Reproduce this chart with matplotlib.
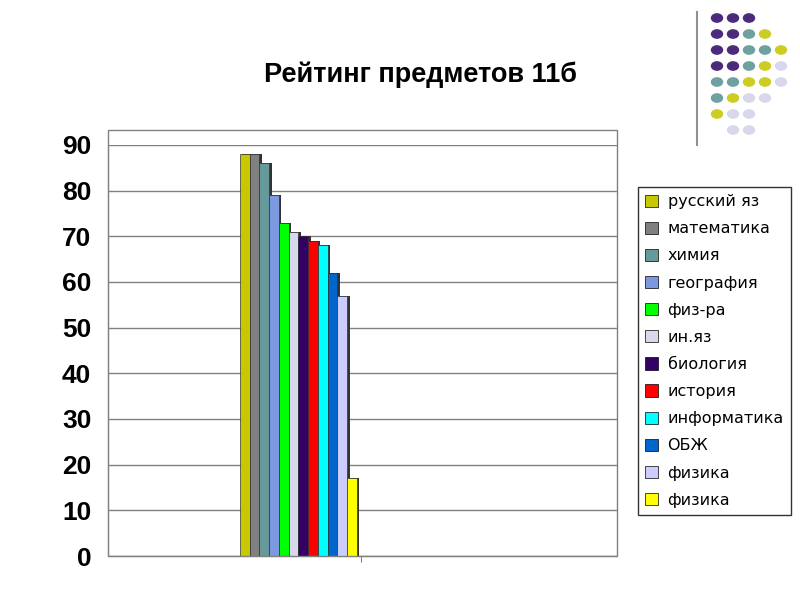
import matplotlib
matplotlib.use("Agg")
import matplotlib.pyplot as plt
from matplotlib.patches import Circle, Rectangle

labels = ["русский яз","математика","химия","география","физ-ра","ин.яз","биология","история","информатика","ОБЖ","физика","физика"]
values = [88, 88, 86, 79, 73, 71, 70, 69, 68, 62, 57, 17]
colors = ["#c8c800","#808080","#669999","#7b98e0","#00ff00","#d8d8ec","#330066","#ff0000","#00ffff","#0066cc","#ccccff","#ffff00"]

plt.rcParams['font.family'] = ['Liberation Sans', 'DejaVu Sans']
fig = plt.figure(figsize=(8, 6), dpi=100)
W, H = 800, 600
ax = fig.add_axes([108/W, 1-556/H, (617-108)/W, (556-145)/H])
for i, (v, c) in enumerate(zip(values, colors)):
    ax.bar(i + 0.25, v, width=1, color="#333333", zorder=2)
    ax.bar(i, v, width=1, color=c, edgecolor="#333333", linewidth=0.5, zorder=3)
ax.set_xlim(-14.04, 38.2)
ax.set_ylim(0, 90)
ax.set_yticks(range(0, 91, 10))
ax.set_xticks([11.95])
ax.set_xticklabels([])
ax.tick_params(axis='x', length=4, direction='out', color='#808080')
ax.tick_params(axis='y', labelsize=19, length=0, pad=12)
for t in ax.get_yticklabels():
    t.set_fontweight('bold')
ax.yaxis.grid(True, color="#808080", linewidth=1, zorder=0)
for s in ['top', 'right']:
    ax.spines[s].set_visible(False)
ax.spines['left'].set_color("#808080")
ax.spines['bottom'].set_color("#808080")

fig.text(420/W, 1-75/H, "Рейтинг предметов 11б", ha='center', va='center', fontsize=19.5, fontweight='bold')
fig.patches.append(Rectangle((108/W, 1-556/H), (617-108)/W, (556-130)/H, transform=fig.transFigure, fill=False, edgecolor='#808080', lw=1))
handles = [Rectangle((0, 0), 1, 1, facecolor=c, edgecolor='black', lw=0.5) for c in colors]
leg = fig.legend(handles, labels, loc='upper left', bbox_to_anchor=(630/W, 1-179/H),
                 prop={'family': 'DejaVu Sans', 'size': 11.5},
                 frameon=True, fancybox=False, edgecolor='black', handlelength=0.8, handleheight=0.8,
                 labelspacing=0.76, borderpad=0.45, handletextpad=0.6)
leg.get_frame().set_linewidth(1)
fig.add_artist(plt.Line2D([697/W, 697/W], [1-12/H, 1-145/H], color='#909090', lw=1.5))
dots = {0: "PPP", 1: "PPTL", 2: "PPTTL", 3: "PPTLD", 4: "TTLLD", 5: "TLDD", 6: "LDD", 7: "DD"}
cmap = {"P": "#4b2a7b", "T": "#6fa0a0", "L": "#cccc22", "D": "#d8d8ec"}
for r, row in dots.items():
    for j, ch in enumerate(row):
        x = (733 if r == 7 else 717) + j * 16
        y = 18 + r * 16
        fig.patches.append(Circle((x/W, 1-y/H), 5.5/W, transform=fig.transFigure, color=cmap[ch]))
fig.savefig("out.png", dpi=100)
